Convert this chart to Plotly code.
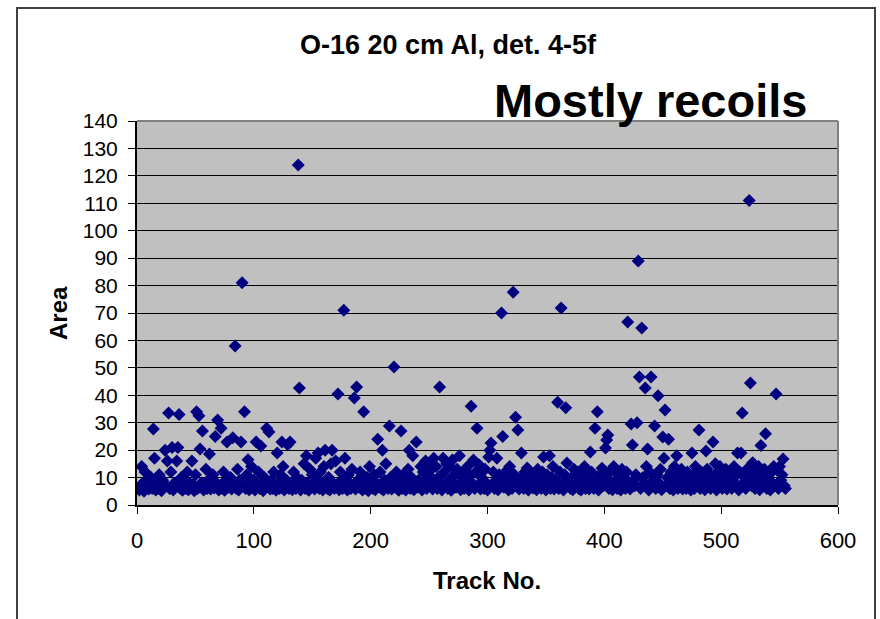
import plotly.graph_objects as go

# Area per track (tracks 1..555)
area = [
    6, 5.5, 7, 14, 8, 5, 12, 6.5, 9, 5.8,
    7, 10, 6, 27.7, 17, 5.5, 8, 6, 11, 7,
    5.2, 9, 6.5, 20, 7, 16, 33.5, 6, 12, 21,
    5.5, 8, 7, 16, 21, 33, 6, 10, 5.4, 9,
    7, 6, 12, 5.6, 8, 6.5, 16, 7.5, 5.2, 11,
    34, 6, 32.5, 20.4, 8, 27, 5.5, 7, 13, 6,
    9, 18.6, 5.8, 7, 11, 6.2, 25, 8, 31, 5.5,
    7, 28, 6, 12, 5.4, 9, 23, 6.5, 8, 10,
    5.8, 24.5, 7, 58, 6, 13, 5.5, 9, 23, 81,
    7, 34, 6, 11, 16.5, 5.6, 8, 14, 6.2, 9,
    5.5, 23, 7, 12, 6, 21.5, 8, 5.2, 10, 6.5,
    28, 7, 26.6, 5.8, 9, 6, 12, 7.5, 5.4, 19,
    8, 6, 11, 23, 14, 5.5, 7, 9, 22, 6,
    23, 8, 5.6, 12, 7, 6, 10, 124, 42.7, 5.5,
    9, 7, 15, 6, 18, 8, 5.4, 13, 6.5, 11,
    7, 5.8, 17, 9, 19, 6, 12, 8, 5.5, 14,
    20, 7, 6, 10, 5.5, 15, 20, 8, 6, 16,
    7, 40.5, 5.6, 12, 9, 6, 71, 17, 7, 5.5,
    11, 8, 6, 13, 7, 39, 5.8, 43, 9, 6.5,
    12, 7, 5.5, 34, 8, 6, 10, 5.2, 14, 7,
    9, 6, 11, 5.6, 8, 24, 7, 12, 6, 20,
    5.5, 9, 15, 7, 6, 28.8, 10, 5.8, 8, 50.3,
    6.5, 12, 7, 5.4, 9, 27, 6, 11, 8, 5.5,
    7, 13, 20, 6, 10, 18, 5.6, 8, 23, 6.5,
    9, 7, 14, 5.5, 12, 8, 16, 6, 11, 15,
    7, 13, 5.8, 17, 9, 14, 6, 10, 43, 8,
    5.5, 17, 12, 7, 15, 6, 9, 14, 5.4, 16.4,
    8, 11, 6.5, 13, 7, 18, 5.6, 10, 12, 6,
    9, 7, 14, 5.5, 11, 36, 8, 16.4, 6, 12,
    28, 7, 14.6, 5.8, 10, 9, 6, 13, 8, 5.5,
    17.5, 20, 22.6, 7, 12, 6, 9, 17, 5.6, 11,
    8, 70, 25, 6.5, 10, 7, 12.8, 5.5, 14, 9,
    6, 77.6, 11, 32, 8, 27.3, 5.8, 7, 19, 10,
    6, 12, 8, 13.5, 5.5, 9, 7, 11, 6.2, 10,
    8, 5.6, 13, 7, 9, 6, 12, 17.5, 8, 5.5,
    11, 7, 18, 6, 10, 14, 5.8, 9, 7, 37.5,
    6, 12, 71.8, 8, 5.5, 11, 35.5, 15.3, 7, 9,
    6, 10, 5.6, 13, 8, 7, 12, 6, 9, 5.5,
    11, 7, 14, 6, 10, 8, 5.8, 19.3, 12, 7,
    6, 28, 9, 34, 5.5, 11, 8, 13.4, 7, 10,
    20.8, 23.7, 25.5, 6, 12, 8, 5.6, 14, 7, 9,
    6, 11, 8, 5.5, 13, 7, 10, 6, 12, 66.7,
    8, 5.8, 29.5, 21.9, 9, 7, 11, 30, 89, 46.7,
    6, 64.5, 10, 8, 42.7, 14, 20.4, 5.5, 12, 46.7,
    7, 9, 28.8, 6, 11, 39.8, 8, 13, 5.6, 24.8,
    17, 34.6, 7, 10, 24, 6, 12, 8, 5.5, 14,
    9, 18, 6, 11, 7, 13, 5.8, 10, 8, 6,
    12, 7, 9, 5.5, 19, 11, 6, 14, 8, 10,
    27.3, 6, 12, 7, 9, 5.6, 19.7, 13, 8, 11,
    6, 10, 23, 7, 15, 5.5, 12, 8, 14, 9,
    6, 11, 7, 13, 5.8, 10, 8, 12, 6, 9,
    14, 7, 11, 19, 5.5, 12, 19, 33.5, 8, 10,
    6, 13, 9, 111, 44.5, 7, 15.4, 11, 6, 12,
    8, 14, 5.6, 21.7, 10, 7, 13, 26, 6, 9,
    11, 5.5, 12, 8, 14, 7, 40.5, 12.8, 6, 14,
    9, 11, 16.8, 7, 6,
]
track = list(range(1, len(area) + 1))

x_ticks = [0, 100, 200, 300, 400, 500, 600]
y_ticks = list(range(0, 141, 10))

title_text = "O-16 20 cm Al, det. 4-5f"
note_text = "Mostly recoils"
x_title = "Track No."
y_title = "Area"

FONT = "Liberation Sans, Arial, sans-serif"

fig = go.Figure()
fig.add_trace(go.Scatter(
    x=track, y=area, mode="markers",
    marker=dict(symbol="diamond", size=10, color="#000080",
                line=dict(width=0)),
    showlegend=False, hoverinfo="x+y",
))

W, H = 880, 619
# plot area on the page: x 137..838, y 121..505
L, T = 137, 121
pw, ph = 701, 384
R = W - L - pw
B = H - T - ph


def px(xp):
    return (xp - L) / pw


def py(yp):
    return (T + ph - yp) / ph


fig.update_layout(
    width=W, height=H,
    margin=dict(l=L, r=R, t=T, b=B, pad=0),
    paper_bgcolor="white",
    plot_bgcolor="#C0C0C0",
    font=dict(family=FONT, color="black"),
    xaxis=dict(
        range=[0, 600], tickvals=x_ticks, ticktext=[str(v) for v in x_ticks],
        showgrid=False, zeroline=False, showline=True, linecolor="black",
        linewidth=2, ticks="outside", ticklen=7, tickcolor="black",
        tickwidth=1, tickfont=dict(size=22, family=FONT),
        ticklabelstandoff=8,
    ),
    yaxis=dict(
        range=[0, 140], tickvals=y_ticks, ticktext=[str(v) for v in y_ticks],
        showgrid=True, gridcolor="black", gridwidth=1, zeroline=False,
        showline=True, linecolor="black", linewidth=2, ticks="outside",
        ticklen=7, tickcolor="black", tickwidth=1,
        tickfont=dict(size=21, family=FONT), ticklabelstandoff=6,
    ),
    shapes=[
        dict(type="line", xref="paper", yref="paper", x0=0, x1=1, y0=1, y1=1,
             line=dict(color="#808080", width=2), layer="above"),
        dict(type="line", xref="paper", yref="paper", x0=1, x1=1, y0=0, y1=1,
             line=dict(color="#808080", width=2), layer="above"),
        dict(type="rect", xref="paper", yref="paper",
             x0=px(17), x1=px(875), y0=py(660), y1=py(8),
             line=dict(color="#404040", width=2), fillcolor="rgba(0,0,0,0)",
             layer="below"),
    ],
    annotations=[
        dict(text="<b>" + title_text + "</b>", xref="paper", yref="paper",
             x=px(448), y=py(45), showarrow=False,
             font=dict(size=27, family=FONT), xanchor="center", yanchor="middle"),
        dict(text="<b>" + note_text + "</b>", xref="paper", yref="paper",
             x=px(650), y=py(100), showarrow=False,
             font=dict(size=47, family=FONT), xanchor="center", yanchor="middle"),
        dict(text="<b>" + x_title + "</b>", xref="paper", yref="paper",
             x=px(487), y=py(580), showarrow=False,
             font=dict(size=24, family=FONT), xanchor="center", yanchor="middle"),
        dict(text="<b>" + y_title + "</b>", xref="paper", yref="paper",
             x=px(58), y=py(313), showarrow=False, textangle=-90,
             font=dict(size=24, family=FONT), xanchor="center", yanchor="middle"),
    ],
)

fig.write_html(
    "out.html",
    config={"displayModeBar": False},
    post_script="document.body.style.margin='0';document.body.style.overflow='hidden';",
)
